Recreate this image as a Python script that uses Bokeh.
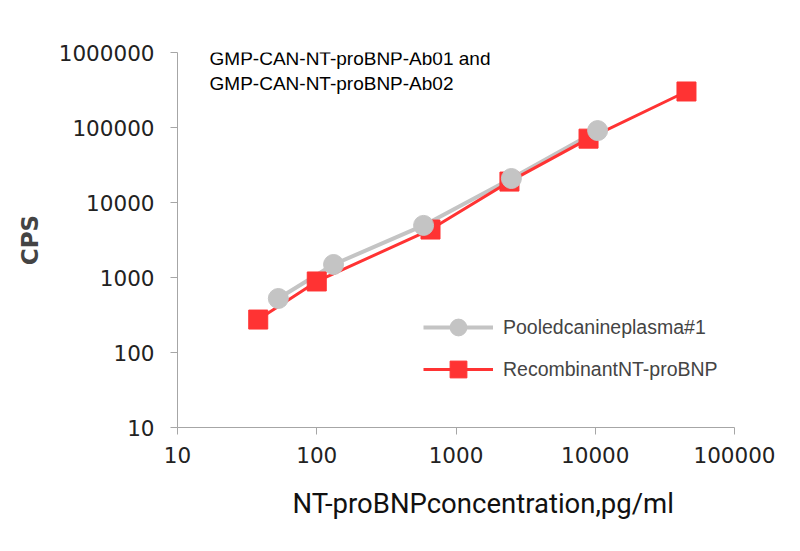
from bokeh.plotting import figure
from bokeh.models import Legend, LegendItem, Label, Title, FixedTicker, NumeralTickFormatter
from bokeh.embed import file_html
from bokeh.resources import INLINE

# data
plasma_x = [53, 132, 585, 2500, 10400]
plasma_y = [525, 1490, 4950, 20900, 91000]
recomb_x = [38, 100, 656, 2420, 8950, 45200]
recomb_y = [275, 885, 4360, 19000, 71000, 302000]
x_ticks = [10, 100, 1000, 10000, 100000]
y_ticks = [10, 100, 1000, 10000, 100000, 1000000]
series_names = ["Pooledcanineplasma#1", "RecombinantNT-proBNP"]
x_title = "NT-proBNPconcentration,pg/ml"
y_title = "CPS"
note = "GMP-CAN-NT-proBNP-Ab01 and\nGMP-CAN-NT-proBNP-Ab02"

p = figure(width=800, height=551, x_axis_type="log", y_axis_type="log",
           x_range=(10, 100000), y_range=(10, 1000000),
           output_backend="svg", toolbar_location=None,
           min_border_left=177, min_border_right=66, min_border_top=52, min_border_bottom=124)
p.outline_line_color = None
p.xgrid.visible = False
p.ygrid.visible = False
p.background_fill_color = "white"

gl = p.line(plasma_x, plasma_y, line_color="#c4c4c4", line_width=4)
rl = p.line(recomb_x, recomb_y, line_color="#ff3333", line_width=3)
rs = p.scatter(recomb_x, recomb_y, marker="square", size=19, fill_color="#ff3333", line_color="#ff3333")
gc = p.scatter(plasma_x, plasma_y, marker="circle", size=20, fill_color="#c4c4c4", line_color="#c4c4c4")

for ax, ticks in ((p.xaxis, x_ticks), (p.yaxis, y_ticks)):
    ax.ticker = FixedTicker(ticks=ticks)
    ax.formatter = NumeralTickFormatter(format="0")
    ax.axis_line_color = "#a6a6a6"
    ax.major_tick_line_color = "#a6a6a6"
    ax.major_tick_out = 7
    ax.major_tick_in = 0
    ax.minor_tick_line_color = None
    ax.major_label_text_font = "DejaVu Sans"
    ax.major_label_text_font_size = "21.5px"
    ax.major_label_text_color = "#222222"

p.yaxis.major_label_standoff = 16
p.xaxis.major_label_standoff = 12
p.yaxis.axis_label = y_title
p.yaxis.axis_label_text_font = "DejaVu Sans"
p.yaxis.axis_label_text_font_style = "bold"
p.yaxis.axis_label_text_font_size = "23px"
p.yaxis.axis_label_standoff = 13

xt = Title(text=x_title, align="left", offset=115, text_font="Roboto", text_font_size="27.5px",
           text_font_style="normal", text_color="#111111", standoff=39)
p.add_layout(xt, "below")

lbl = Label(x=17, y=1150000, text=note,
            text_font="Liberation Sans", text_font_size="19px", text_baseline="top",
            text_color="black")
p.add_layout(lbl)

legend = Legend(items=[LegendItem(label=series_names[0], renderers=[gl, gc]),
                       LegendItem(label=series_names[1], renderers=[rl, rs])],
                location=(246, 37), glyph_width=70, glyph_height=42, label_height=42,
                spacing=0, padding=0, margin=0, border_line_alpha=0, background_fill_alpha=0,
                label_text_font="Liberation Sans", label_text_font_size="19.5px",
                label_standoff=10)
p.add_layout(legend)

open("out.html", "w").write(file_html(p, INLINE))
